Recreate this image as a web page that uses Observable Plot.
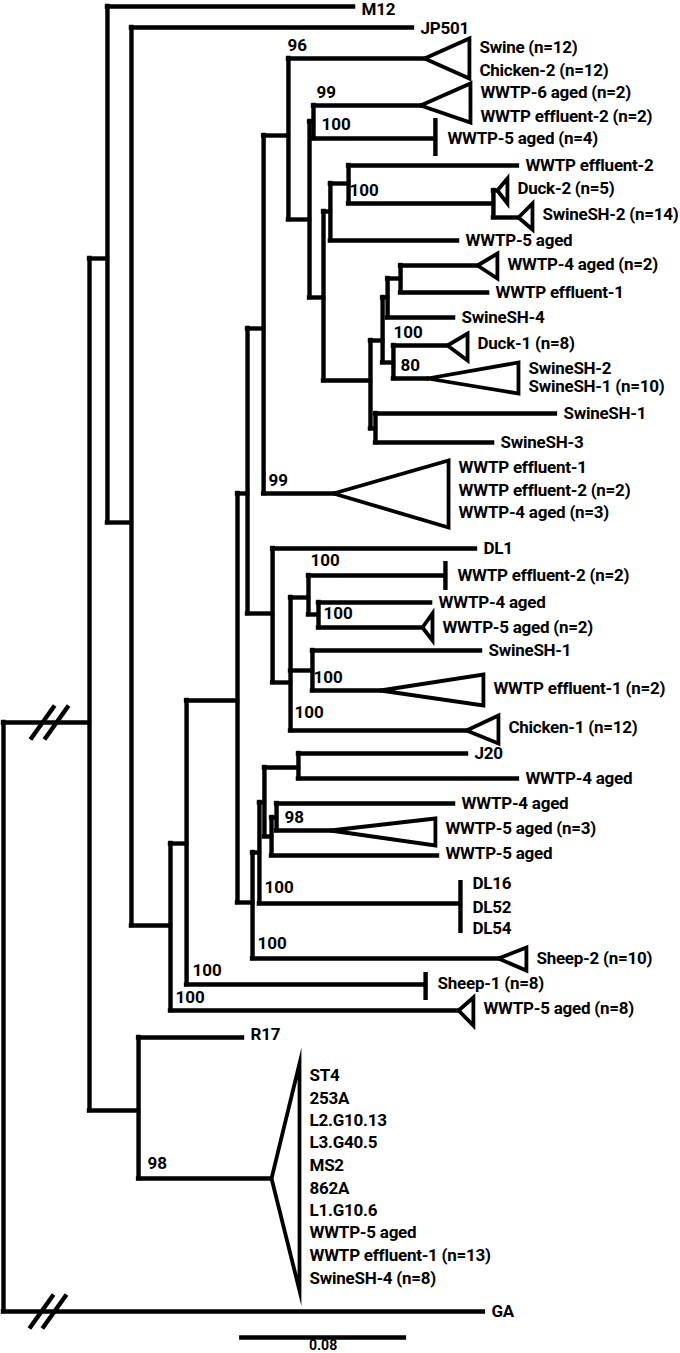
<!DOCTYPE html>
<html><head><meta charset="utf-8">
<script src="https://cdn.jsdelivr.net/npm/d3@7"></script>
<script src="https://cdn.jsdelivr.net/npm/@observablehq/plot@0.6"></script>
<style>body{margin:0;background:#fff}</style>
</head><body><div id="chart"></div>
<script>
// depth: distance from root in 0.001 substitutions/site; row: vertical position down the tree
const internalNodes = [
  {id:"root", parent:null, depth:0, row:722},
  {id:"N", parent:"root", depth:41.2, row:722},
  {id:"M", parent:"N", depth:49.8, row:258},
  {id:"O", parent:"N", depth:64.7, row:1110},
  {id:"J", parent:"M", depth:61.3, row:522},
  {id:"K", parent:"J", depth:80.0, row:925},
  {id:"T", parent:"K", depth:87.7, row:843},
  {id:"U", parent:"T", depth:112.1, row:700},
  {id:"Q", parent:"U", depth:116.9, row:493},
  {id:"V", parent:"U", depth:119.3, row:902},
  {id:"P", parent:"Q", depth:124.6, row:328},
  {id:"R", parent:"Q", depth:128.9, row:613},
  {id:"n96", parent:"P", depth:136.5, row:135},
  {id:"A", parent:"n96", depth:146.6, row:219},
  {id:"n99", parent:"A", depth:148.5, row:121},
  {id:"C", parent:"A", depth:153.3, row:297},
  {id:"D", parent:"C", depth:156.6, row:211},
  {id:"n100", parent:"D", depth:165.3, row:183},
  {id:"F", parent:"n100", depth:234.7, row:203},
  {id:"E", parent:"C", depth:175.8, row:380},
  {id:"G", parent:"E", depth:181.6, row:340},
  {id:"n387", parent:"G", depth:184.0, row:297},
  {id:"n400", parent:"n387", depth:190.2, row:278},
  {id:"n393", parent:"G", depth:186.8, row:362},
  {id:"H", parent:"E", depth:178.2, row:428},
  {id:"R2", parent:"R", depth:137.5, row:682},
  {id:"X", parent:"R2", depth:146.1, row:597},
  {id:"Y", parent:"X", depth:150.9, row:614},
  {id:"Z", parent:"R2", depth:148.0, row:670},
  {id:"W", parent:"V", depth:122.6, row:852},
  {id:"n264", parent:"W", depth:125.0, row:802},
  {id:"n298", parent:"n264", depth:141.3, row:767},
  {id:"n271", parent:"n264", depth:128.4, row:836},
  {id:"n276", parent:"n271", depth:130.8, row:817}
];

const leafTips = [
  {id:"t_M12", parent:"M", depth:167.7, row:6},
  {id:"t_JP501", parent:"J", depth:195.9, row:27},
  {id:"t_GA", parent:"root", depth:229.9, row:1311},
  {id:"t_eff2a", parent:"n100", depth:246.2, row:165},
  {id:"t_w5a", parent:"D", depth:217.5, row:240},
  {id:"t_eff1a", parent:"n400", depth:231.9, row:292},
  {id:"t_sh4", parent:"n387", depth:215.6, row:317},
  {id:"t_sh1a", parent:"H", depth:264.4, row:413},
  {id:"t_sh3", parent:"H", depth:234.3, row:442},
  {id:"t_DL1", parent:"R", depth:226.1, row:548},
  {id:"t_w4a", parent:"Y", depth:204.6, row:602},
  {id:"t_sh1b", parent:"Z", depth:228.5, row:650},
  {id:"t_J20", parent:"n298", depth:221.8, row:753},
  {id:"t_w4b", parent:"n298", depth:246.2, row:778},
  {id:"t_w4c", parent:"n276", depth:215.6, row:803},
  {id:"t_w5b", parent:"n271", depth:207.9, row:855},
  {id:"t_R17", parent:"O", depth:114.5, row:1037}
];

// identical sequences: branch ending in a vertical bar
const barTips = [
  {id:"b_w5n4", parent:"n99", depth:206.9, row:138, top:118, bottom:156},
  {id:"b_eff2n2", parent:"X", depth:211.7, row:575, top:561, bottom:590},
  {id:"b_DL", parent:"W", depth:218.9, row:903, top:880, bottom:933},
  {id:"b_sheep1", parent:"T", depth:202.2, row:984, top:972, bottom:1000}
];

// collapsed clades drawn as triangles
const collapsedClades = [
  {id:"c_swine", parent:"n96", apex:201.7, depth:223.2, row:58, top:38, bottom:78},
  {id:"c_w6", parent:"n99", apex:199.8, depth:223.7, row:105, top:83, bottom:122},
  {id:"c_duck2", parent:"F", apex:236.6, depth:241.4, row:190, top:178, bottom:203},
  {id:"c_sh2n14", parent:"F", apex:246.7, depth:253.4, row:217, top:203, bottom:229},
  {id:"c_w4n2", parent:"n400", apex:227.1, depth:236.6, row:265, top:253, bottom:278},
  {id:"c_duck1", parent:"n393", apex:212.7, depth:222.3, row:345, top:333, bottom:360},
  {id:"c_sh21", parent:"n393", apex:203.1, depth:246.7, row:378, top:362, bottom:393},
  {id:"c_wwtp99", parent:"P", apex:158.1, depth:213.2, row:493, top:460, bottom:527},
  {id:"c_w5n2", parent:"Y", apex:200.7, depth:205.5, row:627, top:613, bottom:640},
  {id:"c_eff1n2", parent:"Z", apex:180.6, depth:229.9, row:690, top:674, bottom:705},
  {id:"c_chick1", parent:"R2", apex:221.8, depth:237.1, row:730, top:715, bottom:743},
  {id:"c_w5n3", parent:"n276", apex:156.6, depth:206.9, row:830, top:818, bottom:845},
  {id:"c_sheep2", parent:"V", apex:237.1, depth:250.5, row:958, top:947, bottom:970},
  {id:"c_w5n8", parent:"K", apex:218.0, depth:225.1, row:1010, top:997, bottom:1025},
  {id:"c_98", parent:"O", apex:128.4, depth:141.8, row:1178, top:1063, bottom:1290}
];

const tipLabels = [
  {tip:"t_M12", text:"M12", row:9},
  {tip:"t_JP501", text:"JP501", row:28},
  {tip:"c_swine", text:"Swine (n=12)", row:47},
  {tip:"c_swine", text:"Chicken-2 (n=12)", row:70},
  {tip:"c_w6", text:"WWTP-6 aged (n=2)", row:92},
  {tip:"c_w6", text:"WWTP effluent-2 (n=2)", row:116},
  {tip:"b_w5n4", text:"WWTP-5 aged (n=4)", row:138},
  {tip:"t_eff2a", text:"WWTP effluent-2", row:165},
  {tip:"c_duck2", text:"Duck-2 (n=5)", row:188},
  {tip:"c_sh2n14", text:"SwineSH-2 (n=14)", row:214},
  {tip:"t_w5a", text:"WWTP-5 aged", row:240},
  {tip:"c_w4n2", text:"WWTP-4 aged (n=2)", row:264},
  {tip:"t_eff1a", text:"WWTP effluent-1", row:292},
  {tip:"t_sh4", text:"SwineSH-4", row:317},
  {tip:"c_duck1", text:"Duck-1 (n=8)", row:343},
  {tip:"c_sh21", text:"SwineSH-2", row:368},
  {tip:"c_sh21", text:"SwineSH-1 (n=10)", row:386},
  {tip:"t_sh1a", text:"SwineSH-1", row:413},
  {tip:"t_sh3", text:"SwineSH-3", row:442},
  {tip:"c_wwtp99", text:"WWTP effluent-1", row:467},
  {tip:"c_wwtp99", text:"WWTP effluent-2 (n=2)", row:490},
  {tip:"c_wwtp99", text:"WWTP-4 aged (n=3)", row:512},
  {tip:"t_DL1", text:"DL1", row:548},
  {tip:"b_eff2n2", text:"WWTP effluent-2 (n=2)", row:575},
  {tip:"t_w4a", text:"WWTP-4 aged", row:602},
  {tip:"c_w5n2", text:"WWTP-5 aged (n=2)", row:627},
  {tip:"t_sh1b", text:"SwineSH-1", row:650},
  {tip:"c_eff1n2", text:"WWTP effluent-1 (n=2)", row:688},
  {tip:"c_chick1", text:"Chicken-1 (n=12)", row:727},
  {tip:"t_J20", text:"J20", row:753},
  {tip:"t_w4b", text:"WWTP-4 aged", row:778},
  {tip:"t_w4c", text:"WWTP-4 aged", row:803},
  {tip:"c_w5n3", text:"WWTP-5 aged (n=3)", row:828},
  {tip:"t_w5b", text:"WWTP-5 aged", row:853},
  {tip:"b_DL", text:"DL16", row:883},
  {tip:"b_DL", text:"DL52", row:907},
  {tip:"b_DL", text:"DL54", row:928},
  {tip:"c_sheep2", text:"Sheep-2 (n=10)", row:958},
  {tip:"b_sheep1", text:"Sheep-1 (n=8)", row:983},
  {tip:"c_w5n8", text:"WWTP-5 aged (n=8)", row:1008},
  {tip:"t_R17", text:"R17", row:1034},
  {tip:"c_98", text:"ST4", row:1075},
  {tip:"c_98", text:"253A", row:1098},
  {tip:"c_98", text:"L2.G10.13", row:1120},
  {tip:"c_98", text:"L3.G40.5", row:1142},
  {tip:"c_98", text:"MS2", row:1165},
  {tip:"c_98", text:"862A", row:1188},
  {tip:"c_98", text:"L1.G10.6", row:1210},
  {tip:"c_98", text:"WWTP-5 aged", row:1232},
  {tip:"c_98", text:"WWTP effluent-1 (n=13)", row:1255},
  {tip:"c_98", text:"SwineSH-4 (n=8)", row:1278},
  {tip:"t_GA", text:"GA", row:1311}
];

const bootstrapValues = [
  {value:"96", depth:136.0, row:45},
  {value:"99", depth:149.9, row:92},
  {value:"100", depth:152.3, row:124},
  {value:"100", depth:165.7, row:190},
  {value:"100", depth:186.8, row:332},
  {value:"80", depth:190.2, row:365},
  {value:"99", depth:126.9, row:480},
  {value:"100", depth:147.1, row:560},
  {value:"100", depth:153.3, row:613},
  {value:"100", depth:148.5, row:677},
  {value:"100", depth:139.4, row:712},
  {value:"98", depth:134.6, row:817},
  {value:"100", depth:125.0, row:887},
  {value:"100", depth:121.7, row:943},
  {value:"100", depth:90.5, row:970},
  {value:"100", depth:82.4, row:997},
  {value:"98", depth:69.0, row:1163}
];

// shortened (broken) branches
const branchBreaks = [
  {row:722, depth:18.7}, {row:722, depth:25.4},
  {row:1311, depth:18.2}, {row:1311, depth:24.4}
];

const scaleBarValue = 0.08;       // substitutions/site
const scaleBarStart = 113.1;      // depth where bar starts
const scaleBarRow = 1337;

// ---- derived geometry ----
const all = [...internalNodes, ...leafTips, ...barTips, ...collapsedClades];
const byId = new Map(all.map(d => [d.id, d]));
const kindOf = new Map([
  ...leafTips.map(d => [d.id, "leaf"]),
  ...barTips.map(d => [d.id, "bar"]),
  ...collapsedClades.map(d => [d.id, "clade"])
]);

const horizontals = all.filter(d => d.parent).map(d => ({
  x1: byId.get(d.parent).depth,
  x2: d.apex !== undefined ? d.apex : d.depth,
  y: d.row
}));

const verticals = internalNodes.map(n => {
  const kids = all.filter(d => d.parent === n.id).map(d => d.row);
  return {x: n.depth, y1: d3.min(kids), y2: d3.max(kids)};
});

const triPts = collapsedClades.flatMap(c => [
  {id:c.id, x:c.apex, y:c.row},
  {id:c.id, x:c.depth, y:c.top},
  {id:c.id, x:c.depth, y:c.bottom},
  {id:c.id, x:c.apex, y:c.row}
]);

const labelData = tipLabels.map(l => ({...l, x: byId.get(l.tip).depth, kind: kindOf.get(l.tip)}));

const font = "Roboto, 'Liberation Sans', sans-serif";
const ink = "#000";
const W = 4.4;

const chart = Plot.plot({
  width: 680,
  height: 1353,
  margin: 0,
  style: {fontFamily: font, background: "#fff"},
  x: {domain: [-3 / 2.0875, 677 / 2.0875], range: [0, 680], axis: null},
  y: {domain: [0, 1353], range: [0, 1353], axis: null},
  marks: [
    Plot.ruleY(horizontals, {y: "y", x1: "x1", x2: "x2", stroke: ink, strokeWidth: W, strokeLinecap: "square"}),
    Plot.ruleX(verticals, {x: "x", y1: "y1", y2: "y2", stroke: ink, strokeWidth: W, strokeLinecap: "square"}),
    Plot.ruleX(barTips, {x: "depth", y1: "top", y2: "bottom", stroke: ink, strokeWidth: W}),
    Plot.line(triPts, {x: "x", y: "y", z: "id", stroke: ink, strokeWidth: 3.8, strokeLinejoin: "miter", strokeMiterlimit: 10, curve: "linear"}),
    Plot.link(branchBreaks, {
      x1: d => d.depth - 5.8, y1: d => d.row + 17,
      x2: d => d.depth + 5.8, y2: d => d.row - 17,
      stroke: ink, strokeWidth: W
    }),
    Plot.text(labelData, {
      x: "x", y: "row", text: "text", textAnchor: "start",
      fill: ink, fontSize: 17, fontWeight: 700, fontFamily: font
    }),
    Plot.text(bootstrapValues, {
      x: "depth", y: "row", text: "value", textAnchor: "start",
      fill: ink, fontSize: 17, fontWeight: 700, fontFamily: font
    }),
    Plot.ruleY([scaleBarRow], {x1: scaleBarStart, x2: scaleBarStart + scaleBarValue * 1000, stroke: ink, strokeWidth: W}),
    Plot.text([String(scaleBarValue)], {x: scaleBarStart + scaleBarValue * 500, y: scaleBarRow + 8, text: d => d, fontSize: 14, fontWeight: 700, fill: ink, fontFamily: font})
  ]
});

// offset tip labels to the right of their tip ends; tighten letter spacing a little
const textGroups = chart.querySelectorAll("g[aria-label='text']");
textGroups[0].querySelectorAll("text").forEach((t, j) => {
  const k = labelData[j].kind;
  t.setAttribute("dx", k === "bar" ? 12 : k === "clade" ? 10 : 8);
  t.setAttribute("letter-spacing", "-0.25");
});

document.getElementById("chart").append(chart);
</script>
</body></html>
